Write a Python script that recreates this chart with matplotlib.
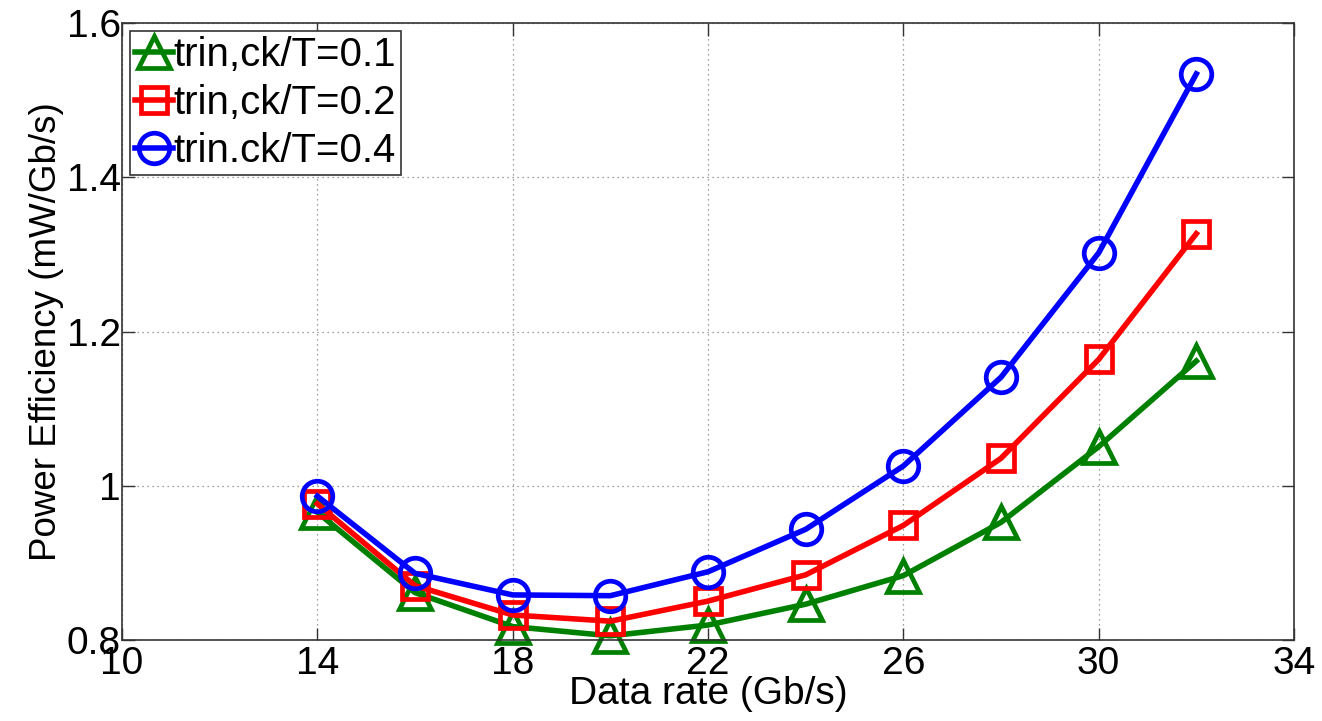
import matplotlib
matplotlib.use("Agg")
import matplotlib.pyplot as plt

plt.rcParams["font.family"] = ["Liberation Sans", "DejaVu Sans"]

# data rate sweep (Gb/s) and power efficiency (mW/Gb/s) per clock-rise ratio
data_rate = [14, 16, 18, 20, 22, 24, 26, 28, 30, 32]
eff_01 = [0.966, 0.862, 0.818, 0.806, 0.820, 0.847, 0.884, 0.953, 1.051, 1.162]
eff_02 = [0.977, 0.871, 0.833, 0.825, 0.851, 0.885, 0.949, 1.036, 1.164, 1.327]
eff_04 = [0.987, 0.887, 0.859, 0.858, 0.889, 0.944, 1.026, 1.141, 1.302, 1.534]

labels = ["trin,ck/T=0.1", "trin,ck/T=0.2", "trin.ck/T=0.4"]
x_ticks = [10, 14, 18, 22, 26, 30, 34]
y_ticks = [0.8, 1.0, 1.2, 1.4, 1.6]
y_ticklabels = ["0.8", "1", "1.2", "1.4", "1.6"]

fig = plt.figure(figsize=(13.22, 7.21), dpi=100)
ax = fig.add_axes([0.0923, 0.1117, 0.8865, 0.8565])

series = [
    (eff_01, "#008000", "^", 23),
    (eff_02, "#ff0000", "s", 19),
    (eff_04, "#0000ff", "o", 22),
]
for (vals, color, marker, ms), label in zip(series, labels):
    ax.plot(data_rate, vals, color=color, lw=4.0, marker=marker, ms=ms,
            mfc="none", mec=color, mew=3.4, label=label, clip_on=False)

ax.set_xlim(10, 34)
ax.set_ylim(0.8, 1.6)
ax.set_xticks(x_ticks)
ax.set_yticks(y_ticks)
ax.set_yticklabels(y_ticklabels)
ax.grid(True, color="#808080", linestyle=(0, (1, 3)), linewidth=0.9)
ax.tick_params(direction="in", length=9, width=1, top=True, right=True,
               labelsize=28, pad=1, color="#333333")
ax.tick_params(axis="x", pad=4)
for sp in ax.spines.values():
    sp.set_color("#333333")
    sp.set_linewidth(1.2)

ax.set_xlabel("Data rate (Gb/s)", fontsize=28, labelpad=-4)
ax.set_ylabel("Power Efficiency (mW/Gb/s)", fontsize=26.5, labelpad=2)

leg = ax.legend(loc="upper left", fontsize=29, handlelength=0.95,
                handletextpad=0.0, borderpad=0.12, labelspacing=0.25,
                borderaxespad=0.2, fancybox=False, framealpha=1)
leg.get_frame().set_edgecolor("#333333")
leg.get_frame().set_linewidth(1.2)

fig.savefig("out.png", dpi=100)
